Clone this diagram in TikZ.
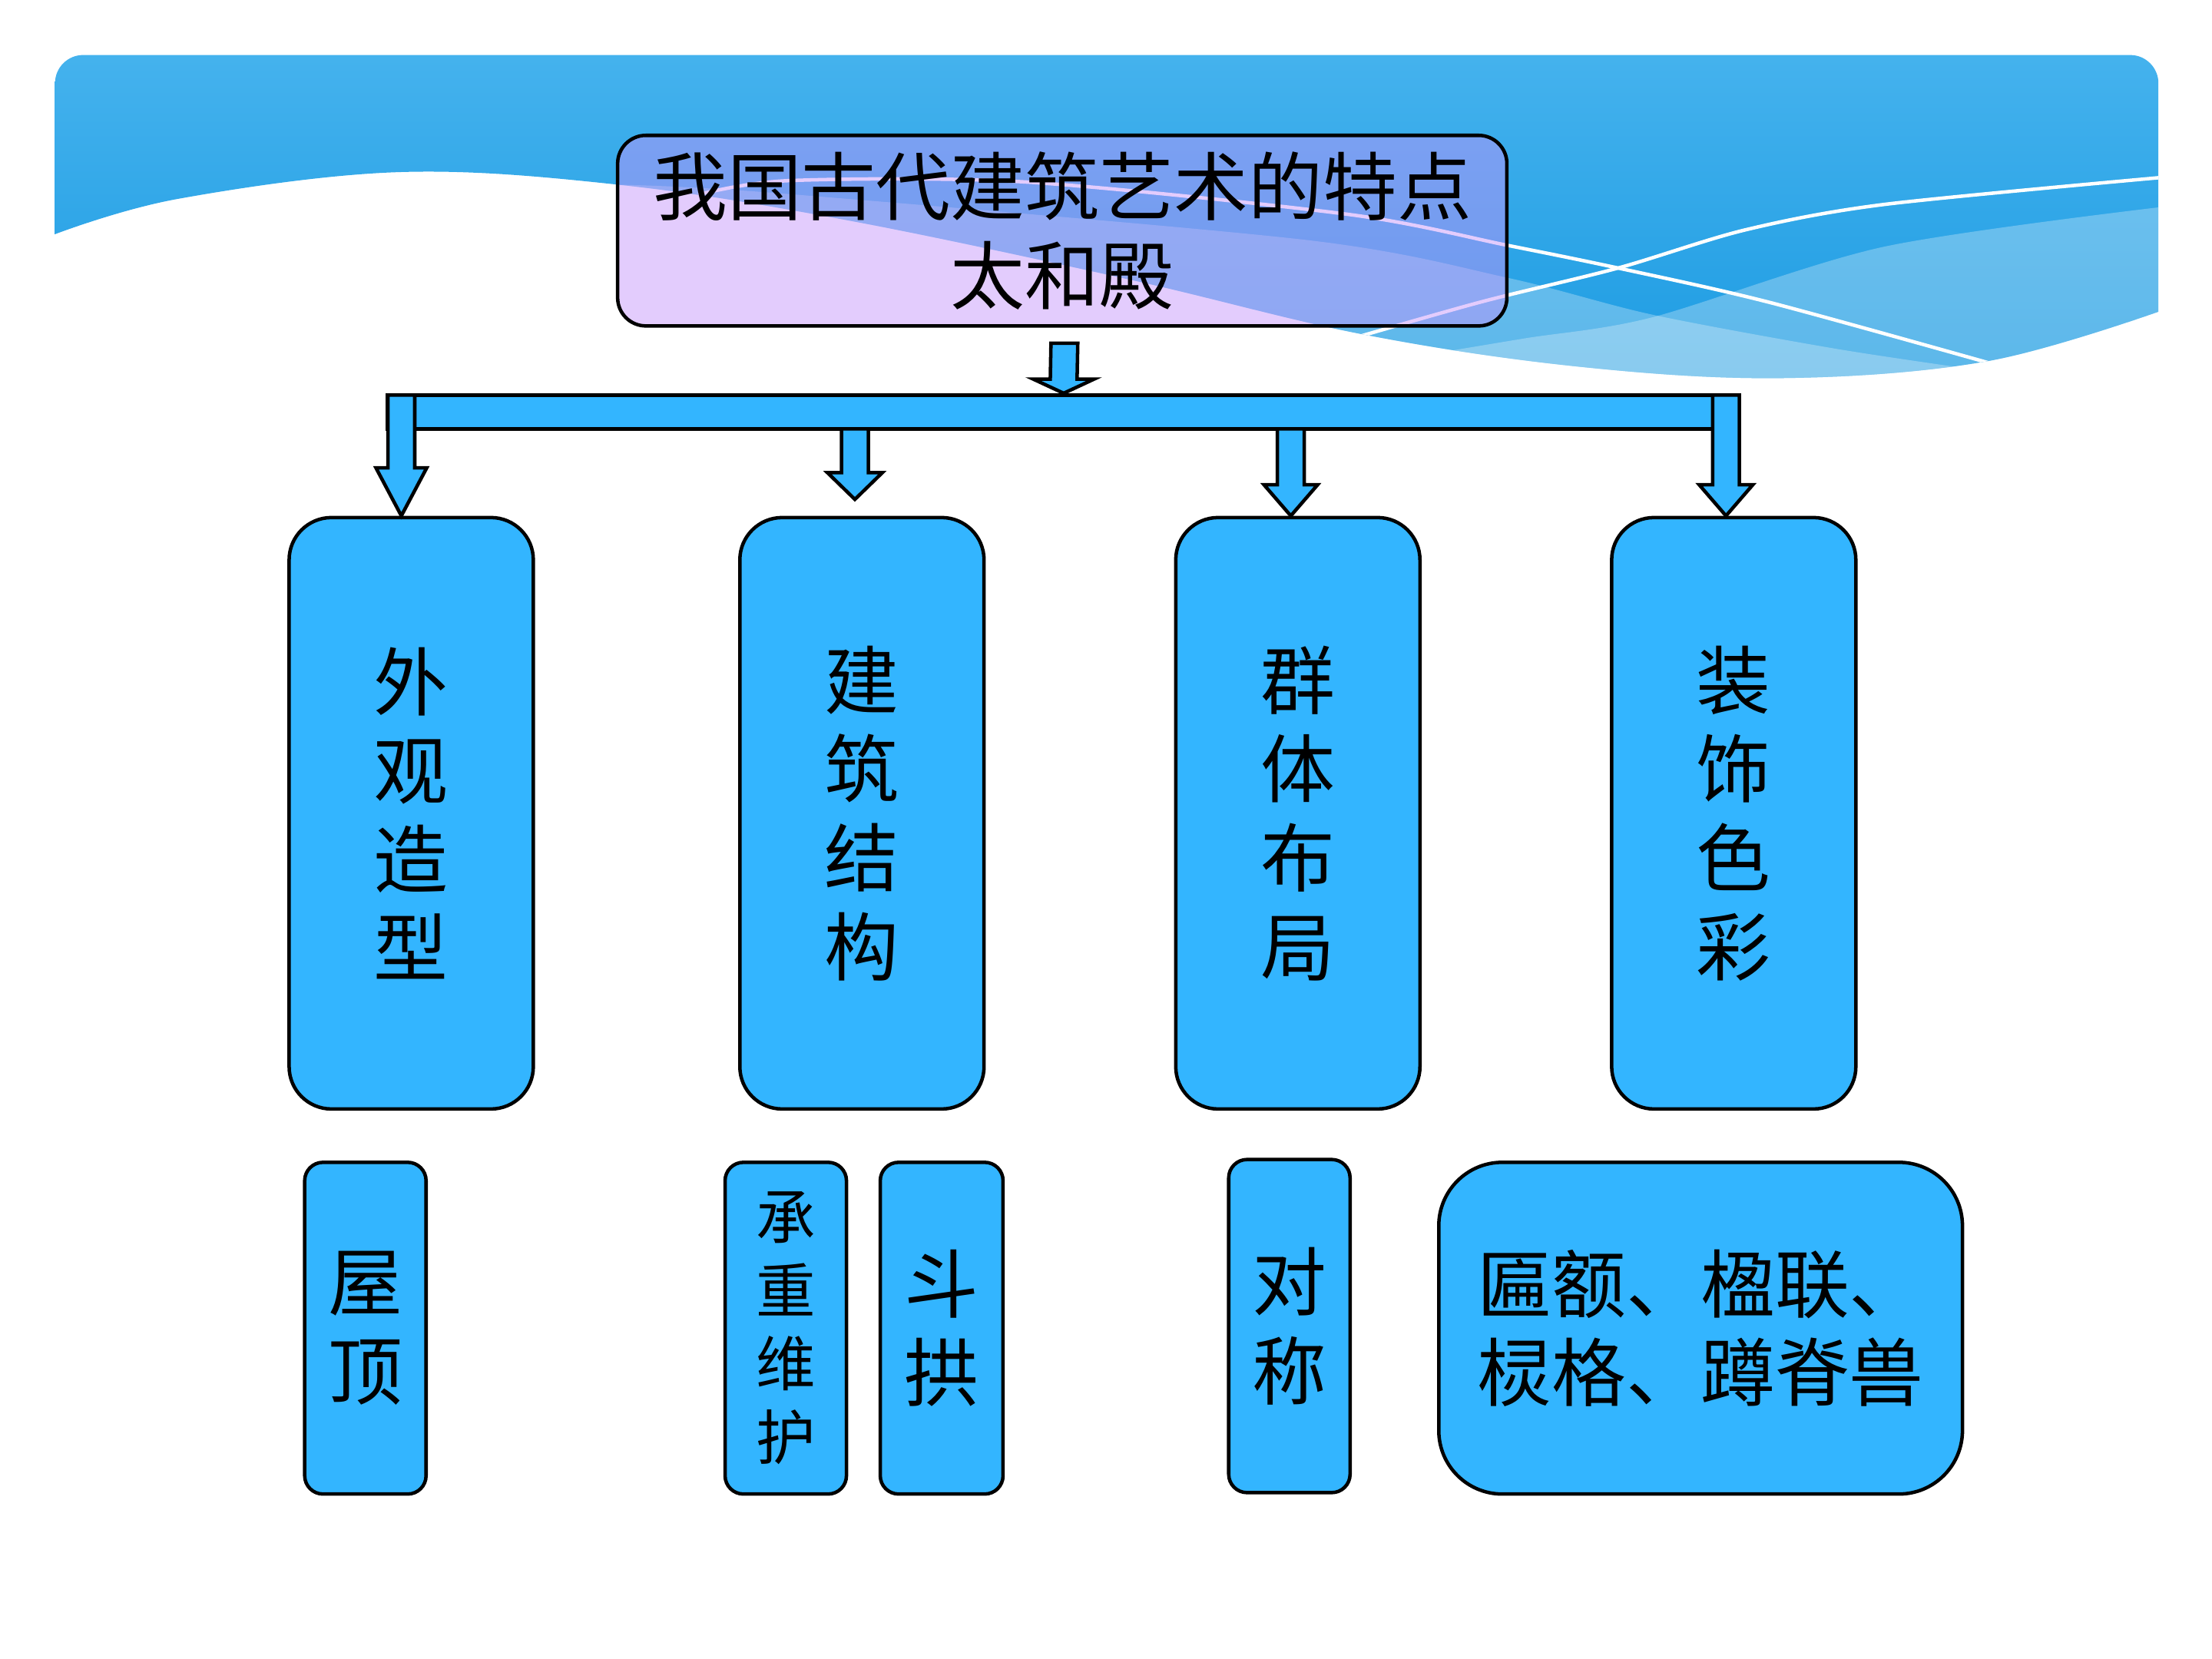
\documentclass[tikz,border=0pt]{standalone}
\usepackage{fontspec}
\setmainfont{Noto Sans CJK SC}
\usetikzlibrary{calc}
\definecolor{boxblue}{RGB}{51,181,255}
\definecolor{bantop}{RGB}{70,179,238}
\definecolor{banbot}{RGB}{28,155,226}
\definecolor{lavend}{RGB}{196,147,251}
% block arrow: start, tip, head length, head half width
\newcommand\blkarrow[4]{%
 \draw[blockarr] ($(#1)+(-9.5,0)$) -- ($(#2)+(-9.5,-#3)$) -- ($(#2)+(-#4,-#3)$) -- (#2)
  -- ($(#2)+(#4,-#3)$) -- ($(#2)+(9.5,-#3)$) -- ($(#1)+(9.5,0)$) -- cycle;}
\begin{document}
\begin{tikzpicture}[x=0.01cm,y=-0.01cm,
 bigfont/.style={font=\fontsize{15}{17.9}\selectfont},
 titlebox/.style={draw,line width=0.7pt,fill=lavend,fill opacity=0.47,text opacity=1,
  rounded corners=0.2cm,minimum width=6.30cm,minimum height=1.35cm,inner sep=0,align=center,bigfont},
 bigbox/.style={draw,line width=0.7pt,fill=boxblue,rounded corners=0.3cm,
  minimum width=1.73cm,minimum height=4.19cm,inner sep=0,align=center,bigfont},
 smallbox/.style={draw,line width=0.7pt,fill=boxblue,rounded corners=0.13cm,
  minimum width=0.86cm,minimum height=2.35cm,inner sep=0,align=center,bigfont},
 blockarr/.style={draw,line width=0.7pt,fill=boxblue,line join=miter}]
\useasboundingbox (0,0) rectangle (1568,1176);
% banner
\begin{scope}
 \clip (39,166) -- (39,59) arc (180:90:0.2cm) -- (1510,39) arc (90:0:0.2cm) -- (1530,221)
  -- plot[smooth,tension=0.6] coordinates {(1530,221) (1409,256) (1265,268) (1120,260) (966,237)
  (800,198) (600,156) (439,131) (283,122) (126,141) (39,166)} -- cycle;
 \shade[top color=bantop,bottom color=banbot] (30,30) rectangle (1540,275);
 \fill[white,opacity=0.28] plot[smooth] coordinates {(440,131) (552,137) (925,170) (1069,197)
  (1171,223) (1300,247) (1400,262)} -- (1400,300) -- (440,300) -- cycle;
 \fill[white,opacity=0.28] plot[smooth] coordinates {(990,255) (1080,240) (1171,225) (1335,175)
  (1530,147)} -- (1540,300) -- (990,300) -- cycle;
 \draw[white,line width=0.7pt] plot[smooth] coordinates {(955,241) (1050,214) (1147,190)
  (1237,163) (1335,145) (1530,126)};
 \draw[white,line width=0.7pt] plot[smooth] coordinates {(495,138) (560,128) (727,129) (956,152)
  (1069,174) (1147,190) (1253,214) (1409,257)};
\end{scope}

\node[titlebox] (title) at (753,163.5) {我国古代建筑艺术的特点\\太和殿};
\node[draw,line width=0.7pt,fill=boxblue,minimum width=9.58cm,minimum height=0.24cm,inner sep=0]
 (bar) at (754,292) {};

\node[bigbox] (wai) at (291.5,576.5) {外\\观\\造\\型};
\node[bigbox] (jian) at (611,576.5) {建\\筑\\结\\构};
\node[bigbox] (qun) at (920,576.5) {群\\体\\布\\局};
\node[bigbox] (zhuang) at (1229,576.5) {装\\饰\\色\\彩};

\node[smallbox] (wuding) at (259,941.5) {屋\\顶};
\node[smallbox,font=\fontsize{12}{14.8}\selectfont] (chengzhong) at (557,941.5) {承\\重\\维\\护};
\node[smallbox,minimum width=0.87cm] (dougong) at (667.5,941.5) {斗\\拱};
\node[smallbox,minimum height=2.36cm] (duichen) at (914,940) {对\\称};
\node[smallbox,rounded corners=0.45cm,minimum width=3.71cm] (bian) at (1205.5,941.5)
 {匾额、楹联、\\棂格、蹲脊兽};

% arrows
\coordinate (t0) at ($(title.south)+(1.5,11)$);
\coordinate (s1) at (284.5,280);
\coordinate (s2) at (606,304);
\coordinate (s3) at (915,304);
\coordinate (s4) at (1223.5,280);
\coordinate (e1) at (s1 |- wai.north);
\coordinate (e2) at (606,354);
\coordinate (e3) at (s3 |- qun.north);
\coordinate (e4) at (s4 |- zhuang.north);
\blkarrow{t0}{bar.north}{10}{21.5}
\blkarrow{s1}{e1}{34}{18}
\blkarrow{s2}{e2}{19}{19.5}
\blkarrow{s3}{e3}{22}{19}
\blkarrow{s4}{e4}{22}{19}
\end{tikzpicture}
\end{document}
